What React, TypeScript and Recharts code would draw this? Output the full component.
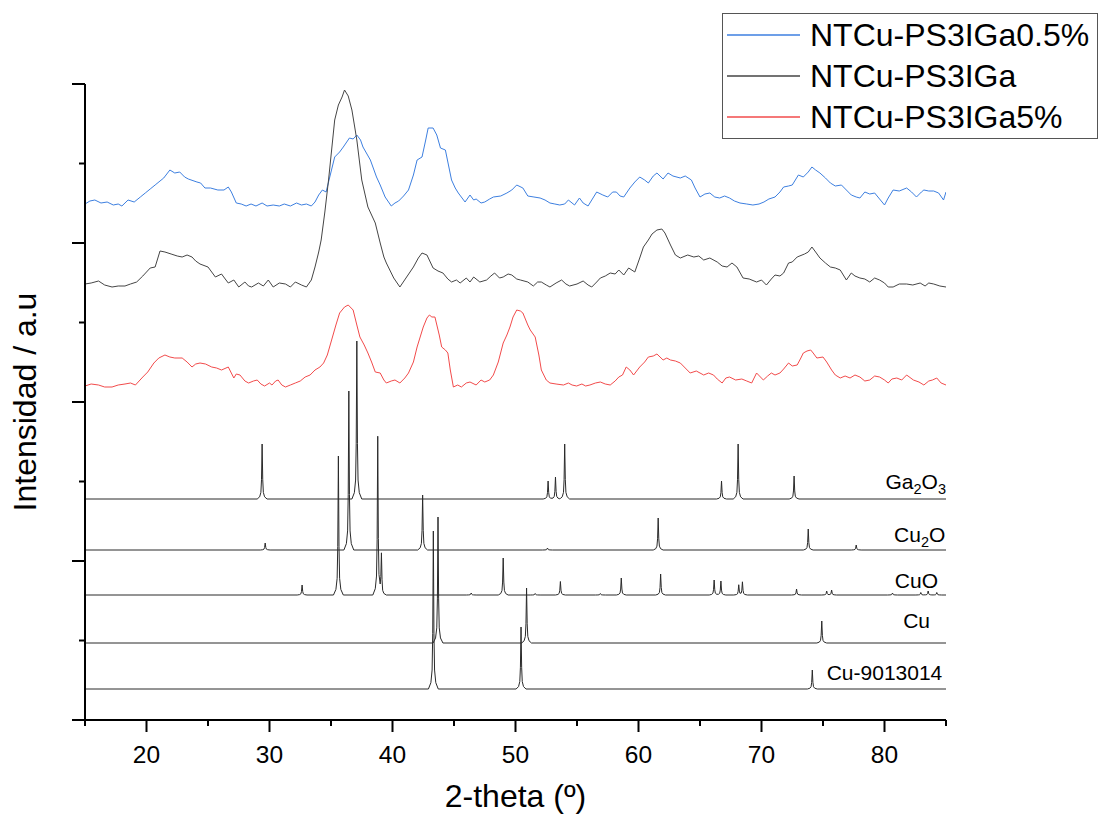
import React from 'react';
import { LineChart, Line, XAxis, YAxis, Legend, ReferenceDot } from 'recharts';

// ---------- measured scans: [2-theta, intensity (a.u.)] ----------
const blueScan: [number, number][] = [
  [15.0,516],[15.4,519],[15.8,520],[16.3,517],[16.8,518],[17.3,515],[17.7,516],[18.0,514],[18.5,520],[19.0,518],
  [19.5,523],[19.9,527],[20.3,531],[20.7,535],[21.1,539],[21.4,542],[21.9,550],[22.3,547],[22.7,548],[23.1,543],
  [23.4,541],[24.1,538],[24.4,537],[24.75,532],[25.2,532],[25.8,530],[26.3,530],[26.65,533],[26.9,528],[27.3,517],
  [27.7,516],[28.1,514],[28.5,516],[28.9,514],[29.4,517],[29.8,514],[30.3,515],[30.8,514],[31.2,516],[31.7,514],
  [32.2,517],[32.6,515],[33.0,516],[33.4,514],[33.7,518],[34.0,525],[34.3,530],[34.6,528],[35.0,548],[35.3,563],
  [35.7,568],[36.0,573],[36.5,582],[36.8,581],[37.1,585],[37.4,580],[37.6,573],[38.2,560],[38.7,543],[39.0,535],
  [39.4,523],[39.9,514],[40.2,517],[40.5,519],[40.9,524],[41.3,530],[41.7,545],[42.0,560],[42.4,563],[42.7,580],
  [42.9,592],[43.3,592],[43.6,585],[43.9,572],[44.3,570],[44.8,540],[45.1,532],[45.35,527],[45.9,518],[46.3,525],
  [46.6,520],[46.8,521],[47.2,517],[47.5,518],[47.9,521],[48.2,523],[48.8,524],[49.3,527],[49.7,530],[50.1,535],
  [50.6,532],[51.0,524],[51.5,523],[52.0,522],[52.4,520],[52.8,517],[53.2,516],[53.6,515],[54.0,516],[54.3,520],
  [54.8,515],[55.2,522],[55.5,517],[55.9,514],[56.2,520],[56.6,528],[57.1,525],[57.5,523],[57.9,528],[58.2,528],
  [58.5,524],[58.8,523],[59.3,532],[59.7,538],[60.1,543],[60.5,540],[60.8,537],[61.2,544],[61.5,547],[62.0,541],
  [62.4,547],[62.8,544],[63.4,542],[63.8,544],[64.3,540],[64.6,532],[65.0,523],[65.4,526],[65.8,527],[66.2,523],
  [66.6,522],[67.0,524],[67.4,522],[67.8,519],[68.25,517],[68.8,516],[69.3,515],[69.8,516],[70.2,518],[70.6,521],
  [71.1,523],[71.5,528],[71.8,533],[72.2,534],[72.5,535],[73.0,545],[73.4,543],[73.8,548],[74.1,553],[74.4,550],
  [74.75,547],[75.2,542],[75.6,537],[76.0,534],[76.5,535],[76.9,530],[77.3,525],[77.7,523],[78.0,522],[78.4,528],
  [78.8,526],[79.2,527],[79.6,521],[80.0,515],[80.3,522],[80.7,530],[81.2,529],[81.8,532],[82.2,528],[82.6,523],
  [83.0,528],[83.2,530],[83.6,529],[84.0,529],[84.4,527],[84.8,520],[85.0,528],
];

const blackScan: [number, number][] = [
  [15.0,436],[15.5,437],[16.1,439],[16.6,435],[17.2,433],[17.7,434],[18.25,434],[18.7,436],[19.2,438],[19.7,444],
  [20.3,452],[20.7,453],[21.1,469],[21.5,468],[22.0,466],[22.5,464],[22.9,463],[23.3,465],[23.7,463],[24.0,459],
  [24.35,456],[25.0,453],[25.3,448],[25.6,443],[26.1,446],[26.4,441],[26.65,437],[27.1,440],[27.5,433],[28.0,438],
  [28.3,434],[28.55,433],[29.1,437],[29.5,434],[29.9,440],[30.3,433],[30.8,437],[31.3,436],[31.7,433],[32.1,438],
  [32.6,435],[33.0,433],[33.4,440],[33.7,453],[34.0,468],[34.2,480],[34.5,508],[34.8,540],[35.05,570],[35.3,600],
  [35.6,615],[35.9,623],[36.1,630],[36.4,624],[36.7,610],[37.1,580],[37.5,540],[38.0,513],[38.3,505],[38.6,497],
  [39.0,477],[39.3,463],[39.5,457],[40.1,442],[40.6,433],[41.15,443],[41.7,453],[42.1,462],[42.4,467],[42.8,465],
  [43.3,452],[43.7,449],[44.1,447],[44.5,441],[44.8,438],[45.2,440],[45.5,437],[46.0,442],[46.3,438],[46.6,443],
  [47.1,438],[47.65,440],[48.0,444],[48.3,447],[48.7,442],[49.0,443],[49.4,446],[49.7,445],[50.1,441],[50.4,440],
  [51.0,438],[51.45,434],[51.8,438],[52.1,438],[52.5,435],[52.8,433],[53.3,437],[53.75,440],[54.1,436],[54.4,434],
  [55.0,436],[55.5,439],[55.9,435],[56.2,433],[56.6,438],[56.9,442],[57.3,444],[57.7,447],[58.1,446],[58.4,450],
  [58.8,445],[59.2,452],[59.7,448],[60.1,462],[60.4,473],[60.8,480],[61.1,486],[61.5,490],[61.9,491],[62.15,487],
  [62.6,475],[63.0,465],[63.4,462],[64.0,465],[64.5,463],[64.9,464],[65.3,460],[65.8,462],[66.4,458],[66.8,454],
  [67.2,453],[67.6,457],[68.0,453],[68.5,442],[69.0,441],[69.6,438],[70.0,440],[70.4,435],[70.8,441],[71.1,445],
  [71.5,444],[71.8,447],[72.2,457],[72.5,458],[72.9,463],[73.5,466],[73.8,468],[74.1,473],[74.4,468],[74.75,462],
  [75.2,457],[75.6,453],[76.0,452],[76.4,450],[76.9,440],[77.3,447],[77.6,444],[78.0,442],[78.4,441],[78.8,438],
  [79.2,442],[79.6,440],[80.0,437],[80.3,433],[80.7,433],[81.2,436],[81.8,436],[82.3,435],[82.9,437],[83.3,434],
  [83.6,437],[84.0,436],[84.5,434],[85.0,433],
];

const redScan: [number, number][] = [
  [15.0,334],[15.5,336],[16.1,335],[16.6,333],[17.2,333],[17.7,335],[18.25,336],[18.7,337],[19.1,335],[19.4,339],
  [19.7,343],[20.1,348],[20.6,357],[21.0,362],[21.5,365],[21.9,363],[22.3,362],[22.9,362],[23.3,358],[23.7,353],
  [24.0,356],[24.35,357],[24.8,356],[25.3,353],[25.7,352],[26.1,350],[26.65,353],[27.1,342],[27.3,346],[27.6,345],
  [28.0,339],[28.3,337],[28.7,339],[29.0,340],[29.3,336],[29.6,334],[30.0,337],[30.2,335],[30.5,339],[30.7,340],
  [31.0,335],[31.3,333],[31.7,335],[32.1,337],[32.5,339],[32.9,343],[33.3,345],[33.7,350],[34.1,353],[34.4,357],
  [34.7,365],[35.05,380],[35.4,395],[35.7,407],[36.1,413],[36.4,415],[36.8,410],[37.1,395],[37.35,383],[37.7,375],
  [38.0,367],[38.3,358],[38.6,348],[39.0,347],[39.3,340],[39.5,337],[39.9,339],[40.2,340],[40.6,337],[41.0,342],
  [41.3,347],[41.7,358],[42.0,373],[42.3,385],[42.5,393],[42.8,402],[43.0,405],[43.2,403],[43.45,403],[43.8,385],
  [44.0,373],[44.3,370],[44.5,367],[44.7,350],[44.95,333],[45.3,335],[45.6,333],[46.0,337],[46.3,338],[46.8,335],
  [47.2,340],[47.5,338],[47.9,340],[48.2,345],[48.6,358],[49.0,377],[49.3,385],[49.55,393],[49.8,403],[50.1,410],
  [50.4,409],[50.6,407],[51.0,395],[51.2,390],[51.6,383],[51.9,365],[52.1,350],[52.5,340],[52.8,337],[53.3,336],
  [53.9,335],[54.3,337],[54.6,335],[54.97,334],[55.4,336],[55.7,334],[56.05,335],[56.5,337],[56.9,338],[57.3,336],
  [57.7,335],[58.1,339],[58.4,343],[58.7,345],[59.0,353],[59.3,350],[59.6,345],[60.1,353],[60.5,358],[60.8,363],
  [61.2,364],[61.5,366],[62.0,360],[62.3,362],[62.6,360],[63.0,359],[63.4,357],[63.8,352],[64.2,347],[64.7,349],
  [65.3,345],[65.7,347],[66.1,345],[66.4,341],[66.8,337],[67.1,342],[67.4,343],[67.9,340],[68.4,341],[68.8,339],
  [69.2,337],[69.6,347],[70.15,340],[70.5,344],[70.8,347],[71.1,345],[71.5,347],[71.8,351],[72.2,357],[72.5,354],
  [72.9,355],[73.2,362],[73.4,367],[73.7,369],[74.0,370],[74.2,367],[74.5,362],[75.0,363],[75.3,358],[75.7,350],
  [76.0,345],[76.4,342],[76.8,344],[77.2,342],[77.6,345],[78.0,343],[78.4,339],[78.8,340],[79.2,344],[79.6,343],
  [80.0,340],[80.3,337],[80.6,341],[81.0,342],[81.4,340],[81.8,345],[82.35,340],[82.8,338],[83.2,335],[83.6,339],
  [83.9,340],[84.25,342],[84.6,337],[85.0,335],
];

const measuredNames = ['NTCu-PS3IGa0.5%', 'NTCu-PS3IGa', 'NTCu-PS3IGa5%'];
const measuredColors = ['#3d7fe0', '#454545', '#f24b4b'];
const measuredScans = [blueScan, blackScan, redScan];

// ---------- reference patterns: baseline, peak positions (2-theta), peak heights ----------
const ga2o3Base = 221;
const ga2o3Pos = [29.4, 37.1, 52.65, 53.25, 54.0, 66.75, 68.1, 72.65];
const ga2o3H = [55, 158, 18, 22, 55, 18, 55, 23];

const cu2oBase = 170;
const cu2oPos = [29.65, 36.45, 42.45, 52.6, 61.6, 73.8, 77.7];
const cu2oH = [7, 159, 55, 2, 32, 21, 5];

const cuoBase = 125;
const cuoPos = [32.65, 35.6, 38.8, 39.1, 46.4, 49.0, 51.6, 53.65, 56.9, 58.6, 61.8, 66.15, 66.7, 68.15, 68.45, 72.85, 75.3, 75.7, 80.65, 82.95, 83.55, 84.25];
const cuoH = [10, 139, 158, 39, 2, 37, 1.5, 13.5, 1.5, 17, 21, 15, 14, 10, 13, 6, 4, 5, 2, 2.5, 4, 2.5];

const cuBase = 77;
const cuPos = [43.7, 50.9, 74.9];
const cuH = [126, 55, 22];

const cuRefBase = 31;
const cuRefPos = [43.32, 50.45, 74.13];
const cuRefH = [158, 62, 19];

// label segments ("sub" = subscript)
const ga2o3Label = [{ t: 'Ga' }, { t: '2', sub: true }, { t: 'O' }, { t: '3', sub: true }];
const cu2oLabel = [{ t: 'Cu' }, { t: '2', sub: true }, { t: 'O' }];
const cuoLabel = [{ t: 'CuO' }];
const cuLabel = [{ t: 'Cu' }];
const cuRefLabel = [{ t: 'Cu-9013014' }];

// axis ticks
const xTicks = [15, 20, 25, 30, 35, 40, 45, 50, 55, 60, 65, 70, 75, 80, 85];
const yMax = 636;
const yTicks = [0, 79.5, 159, 238.5, 318, 397.5, 477, 556.5, 636];

// ---------- building helpers ----------
const PROFILE_DX = [-0.4, -0.2, -0.1, -0.05, 0, 0.05, 0.1, 0.2, 0.4];
const PROFILE_F = [0, 0.04, 0.12, 0.35, 1, 0.35, 0.12, 0.04, 0];

function profileAt(d: number) {
  if (d <= PROFILE_DX[0] || d >= PROFILE_DX[PROFILE_DX.length - 1]) return 0;
  for (let i = 0; i < PROFILE_DX.length - 1; i++) {
    if (d >= PROFILE_DX[i] && d <= PROFILE_DX[i + 1]) {
      const t = (d - PROFILE_DX[i]) / (PROFILE_DX[i + 1] - PROFILE_DX[i]);
      return PROFILE_F[i] + t * (PROFILE_F[i + 1] - PROFILE_F[i]);
    }
  }
  return 0;
}

function buildPattern(base: number, pos: number[], h: number[]) {
  const xs = new Set<number>([15, 85]);
  pos.forEach((p) =>
    PROFILE_DX.forEach((dx) => {
      const x = +(p + dx).toFixed(3);
      if (x >= 15 && x <= 85) xs.add(x);
    })
  );
  return [...xs]
    .sort((a, b) => a - b)
    .map((x) => ({ x, y: base + pos.reduce((s, p, i) => s + h[i] * profileAt(x - p), 0) }));
}

const toRows = (scan: [number, number][]) => scan.map(([x, y]) => ({ x, y }));

const patterns = [
  { key: 'Ga2O3', data: buildPattern(ga2o3Base, ga2o3Pos, ga2o3H), label: ga2o3Label, lx: 85, ly: ga2o3Base + 10 },
  { key: 'Cu2O', data: buildPattern(cu2oBase, cu2oPos, cu2oH), label: cu2oLabel, lx: 84.95, ly: cu2oBase + 8 },
  { key: 'CuO', data: buildPattern(cuoBase, cuoPos, cuoH), label: cuoLabel, lx: 84.35, ly: cuoBase + 7 },
  { key: 'Cu', data: buildPattern(cuBase, cuPos, cuH), label: cuLabel, lx: 83.7, ly: cuBase + 15 },
  { key: 'Cu-9013014', data: buildPattern(cuRefBase, cuRefPos, cuRefH), label: cuRefLabel, lx: 84.7, ly: cuRefBase + 9 },
];

const FONT = '"Liberation Sans", Arial, sans-serif';

const XTick = (props: any) => {
  const { x, y, payload } = props;
  const major = payload.value % 10 === 0;
  return (
    <g>
      <line x1={x} x2={x} y1={y} y2={y + (major ? 12 : 6)} stroke="#000" strokeWidth={2} />
      {major && (
        <text x={x} y={y + 43} textAnchor="middle" fontSize={24.5} fill="#000" fontFamily={FONT}>
          {payload.value}
        </text>
      )}
    </g>
  );
};

const YTick = (props: any) => {
  const { x, y, index } = props;
  const len = index % 2 === 0 ? 13 : 6;
  return <line x1={x - len} x2={x} y1={y} y2={y} stroke="#000" strokeWidth={2} />;
};

const makeLabelShape = (segs: { t: string; sub?: boolean }[]) => (p: any) => {
  let shift = 0;
  return (
    <text x={p.cx} y={p.cy} textAnchor="end" fontSize={21} fill="#000" fontFamily={FONT}>
      {segs.map((s, i) => {
        const target = s.sub ? 5 : 0;
        const dy = target - shift;
        shift = target;
        return (
          <tspan key={i} dy={dy} fontSize={s.sub ? 14.5 : 21}>
            {s.t}
          </tspan>
        );
      })}
    </text>
  );
};

const renderLegend = (props: any) => {
  const items = (props.payload || [])
    .filter((p: any) => measuredNames.includes(p.value))
    .sort((a: any, b: any) => measuredNames.indexOf(a.value) - measuredNames.indexOf(b.value));
  return (
    <div style={{ width: 376, height: 126, border: '1.5px solid #555', boxSizing: 'border-box', background: '#fff' }}>
      <svg width={373} height={123} style={{ display: 'block' }}>
        {items.map((it: any, i: number) => {
          const cy = 21 + i * 41;
          return (
            <g key={it.value}>
              <line x1={4} x2={77} y1={cy} y2={cy} stroke={it.color} strokeWidth={1.5} />
              <text x={87} y={cy + 11} fontSize={32} fontFamily={FONT} fill="#000">
                {it.value}
              </text>
            </g>
          );
        })}
      </svg>
    </div>
  );
};

export default function App() {
  return (
    <div style={{ position: 'absolute', left: 0, top: 0, background: '#fff' }}>
      <LineChart
        width={1099}
        height={816}
        margin={{ top: 84, right: 153, bottom: 0, left: 0 }}
        style={{ fontFamily: FONT }}
      >
        <XAxis
          type="number"
          dataKey="x"
          domain={[15, 85]}
          ticks={xTicks}
          interval={0}
          height={96}
          tickSize={0}
          tickMargin={0}
          tickLine={false}
          axisLine={{ stroke: '#000', strokeWidth: 2 }}
          tick={<XTick />}
          allowDataOverflow
          label={{
            content: (p: any) => {
              const vb = p.viewBox;
              return (
                <text x={vb.x + vb.width / 2} y={vb.y + 87} textAnchor="middle" fontSize={32} fontFamily={FONT} fill="#000">
                  2-theta (º)
                </text>
              );
            },
          }}
        />
        <YAxis
          type="number"
          domain={[0, yMax]}
          ticks={yTicks}
          interval={0}
          width={85}
          tickSize={0}
          tickMargin={0}
          tickLine={false}
          axisLine={{ stroke: '#000', strokeWidth: 2 }}
          tick={<YTick />}
          allowDataOverflow
          label={{
            content: (p: any) => {
              const vb = p.viewBox;
              const cx = vb.x + 36;
              const cy = vb.y + vb.height / 2;
              return (
                <text x={cx} y={cy} transform={`rotate(-90 ${cx} ${cy})`} textAnchor="middle" fontSize={32} fontFamily={FONT} fill="#000">
                  Intensidad / a.u
                </text>
              );
            },
          }}
        />
        <Legend
          layout="vertical"
          align="center"
          verticalAlign="middle"
          content={renderLegend}
          wrapperStyle={{ position: 'absolute', left: 722, top: 13, width: 376, height: 126 }}
        />
        {patterns.map((pt) => (
          <Line
            key={pt.key}
            data={pt.data}
            dataKey="y"
            name={pt.key}
            type="linear"
            stroke="#2a2a2a"
            strokeWidth={1}
            dot={false}
            activeDot={false}
            legendType="none"
            isAnimationActive={false}
          />
        ))}
        {measuredScans.map((scan, i) => (
          <Line
            key={measuredNames[i]}
            data={toRows(scan)}
            dataKey="y"
            name={measuredNames[i]}
            type="linear"
            stroke={measuredColors[i]}
            strokeWidth={1}
            dot={false}
            activeDot={false}
            isAnimationActive={false}
          />
        ))}
        {patterns.map((pt) => (
          <ReferenceDot
            key={'lbl-' + pt.key}
            x={pt.lx}
            y={pt.ly}
            r={0}
            ifOverflow="visible"
            shape={makeLabelShape(pt.label)}
          />
        ))}
      </LineChart>
    </div>
  );
}
